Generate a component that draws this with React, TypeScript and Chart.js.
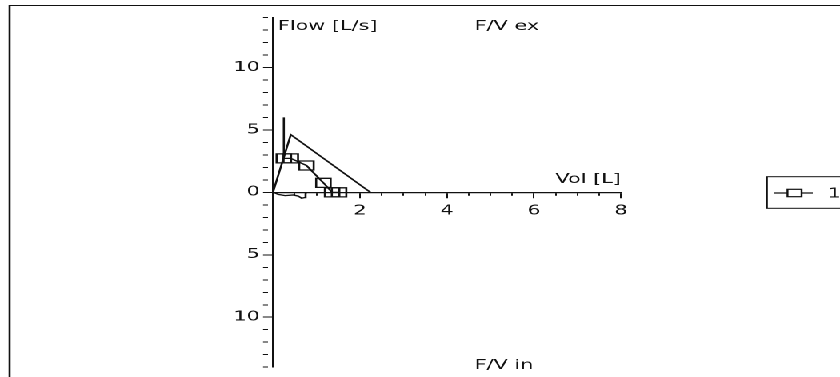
import React, { useEffect, useRef } from 'react';
import { Chart, registerables } from 'chart.js';

Chart.register(...registerables);

// Flow-volume loop of one spirometry trial (expiration above zero, inspiration below)
const seriesLabel = '1';
const measuredVol = [0.25, 0.41, 0.77, 1.16, 1.36, 1.52];
const measuredFlow = [2.72, 2.72, 2.15, 0.76, 0, 0];
const predictedVol = [0, 0.41, 2.24];
const predictedFlow = [0, 4.62, 0];
const pefVol = [0.25, 0.25];
const pefFlow = [2.8, 6.0];
const inspVol = [0.02, 0.12, 0.28, 0.47, 0.58, 0.66, 0.72, 0.75, 0.77];
const inspFlow = [0, -0.16, -0.26, -0.21, -0.3, -0.47, -0.42, -0.1, 0];

const volMin = 0;
const volMax = 8;
const flowMin = -14;
const flowMax = 14;
const volLabelTicks = [2, 4, 6, 8];
const flowLabelTicks = [-10, -5, 0, 5, 10];

const yTitle = 'Flow [L/s]';
const xTitle = 'Vol [L]';
const topTitle = 'F/V ex';
const bottomTitle = 'F/V in';

const INK = '#111';
const FONT = 'DejaVu Sans';
const CANVAS_W = 525;
const CANVAS_H = 377;
const STRETCH = 1.6;
const Y_AXIS_BOX = 40;

const toPoints = (xs: number[], ys: number[]) => xs.map((x, i) => ({ x, y: ys[i] }));

const decorations = {
  id: 'fvDecorations',
  beforeDraw(chart: any) {
    const { ctx, width, height } = chart;
    ctx.save();
    ctx.fillStyle = '#fff';
    ctx.fillRect(0, 0, width, height);
    ctx.strokeStyle = INK;
    ctx.lineWidth = 1.3;
    ctx.beginPath();
    ctx.moveTo(6, 5);
    ctx.lineTo(6, height);
    ctx.stroke();
    ctx.lineWidth = 1;
    ctx.beginPath();
    ctx.moveTo(6, 5.5);
    ctx.lineTo(width, 5.5);
    ctx.stroke();
    ctx.restore();
  },
  afterDraw(chart: any) {
    const { ctx, chartArea } = chart;
    const xs = chart.scales.x;
    const ys = chart.scales.y;
    const x0 = xs.getPixelForValue(0);
    const y0 = ys.getPixelForValue(0);
    ctx.save();
    ctx.fillStyle = INK;
    ctx.font = `13px "${FONT}"`;
    ctx.textBaseline = 'alphabetic';

    ctx.textAlign = 'left';
    ctx.fillText(yTitle, x0 + 3, 30);
    ctx.fillText(topTitle, chartArea.left + 126, 30);
    ctx.fillText(bottomTitle, chartArea.left + 126, 369);

    ctx.textAlign = 'right';
    ctx.fillText(xTitle, xs.getPixelForValue(volMax), y0 - 9.5);

    // legend with line + square marker
    const ds = chart.data.datasets[0];
    const lx = 479.4;
    const ly = 176.7;
    ctx.strokeStyle = INK;
    ctx.lineWidth = 1;
    ctx.strokeRect(lx, ly, 80, 31.6);
    const my = ly + 16.3;
    ctx.lineWidth = 1.2;
    ctx.beginPath();
    ctx.moveTo(lx + 4.4, my);
    ctx.lineTo(lx + 28.6, my);
    ctx.stroke();
    ctx.fillStyle = '#fff';
    ctx.fillRect(lx + 12.8, my - 3.7, 8.8, 7.4);
    ctx.strokeRect(lx + 12.8, my - 3.7, 8.8, 7.4);
    ctx.fillStyle = INK;
    ctx.textAlign = 'left';
    ctx.fillText(ds.label, lx + 38, my + 4.6);
    ctx.restore();
  },
};

export default function App() {
  const canvasRef = useRef<HTMLCanvasElement | null>(null);

  useEffect(() => {
    const canvas = canvasRef.current;
    if (!canvas) return;
    const lineBase = {
      showLine: true,
      borderColor: INK,
      borderWidth: 1.3,
      pointRadius: 0,
      fill: false,
    };
    const chart = new Chart(canvas, {
      type: 'scatter',
      data: {
        datasets: [
          {
            ...lineBase,
            label: seriesLabel,
            data: toPoints(measuredVol, measuredFlow),
            pointStyle: 'rect',
            pointRadius: 6.4,
            pointBorderWidth: 1.3,
            pointBorderColor: INK,
            pointBackgroundColor: 'rgba(0,0,0,0)',
          },
          { ...lineBase, label: 'pred', data: toPoints(predictedVol, predictedFlow) },
          { ...lineBase, label: 'pef', data: toPoints(pefVol, pefFlow) },
          { ...lineBase, label: 'insp', data: toPoints(inspVol, inspFlow) },
        ],
      },
      options: {
        responsive: false,
        maintainAspectRatio: false,
        animation: false,
        devicePixelRatio: 2,
        layout: {
          padding: {
            left: 170.6 - Y_AXIS_BOX,
            right: CANVAS_W - 388.1,
            top: 17.5,
            bottom: 5,
          },
        },
        plugins: {
          legend: { display: false },
          tooltip: { enabled: false },
        },
        scales: {
          x: {
            type: 'linear',
            position: { y: 0 },
            min: volMin,
            max: volMax,
            border: { display: true, color: INK, width: 1.2 },
            grid: {
              drawOnChartArea: false,
              drawTicks: true,
              tickLength: 5,
              tickColor: INK,
              tickWidth: 1,
              tickBorderDash: (c: any) =>
                c.tick && volLabelTicks.includes(c.tick.value) ? [] : [2.5, 50],
            },
            ticks: {
              stepSize: 0.5,
              autoSkip: false,
              maxRotation: 0,
              padding: 6,
              color: INK,
              font: { family: FONT, size: 13 },
              callback: (v: any) => (volLabelTicks.includes(Number(v)) ? String(v) : ''),
            },
          },
          y: {
            type: 'linear',
            position: 'left',
            min: flowMin,
            max: flowMax,
            afterFit: (scale: any) => {
              scale.width = Y_AXIS_BOX;
            },
            border: { display: true, color: INK, width: 1.2 },
            grid: {
              drawOnChartArea: false,
              drawTicks: true,
              tickLength: 6.2,
              tickColor: INK,
              tickWidth: 1,
              tickBorderDash: (c: any) =>
                c.tick && flowLabelTicks.includes(c.tick.value) ? [] : [3.1, 50],
            },
            ticks: {
              stepSize: 1,
              autoSkip: false,
              padding: 2,
              color: INK,
              font: { family: FONT, size: 13 },
              callback: (v: any) =>
                flowLabelTicks.includes(Number(v)) ? String(Math.abs(Number(v))) : '',
            },
          },
        },
      },
      plugins: [decorations],
    } as any);
    return () => chart.destroy();
  }, []);

  return (
    <div
      style={{
        position: 'absolute',
        left: 0,
        top: 0,
        width: CANVAS_W,
        height: CANVAS_H,
        transform: `scaleX(${STRETCH})`,
        transformOrigin: '0 0',
        background: '#fff',
      }}
    >
      <canvas
        ref={canvasRef}
        width={CANVAS_W}
        height={CANVAS_H}
        style={{ width: CANVAS_W, height: CANVAS_H }}
      />
    </div>
  );
}
